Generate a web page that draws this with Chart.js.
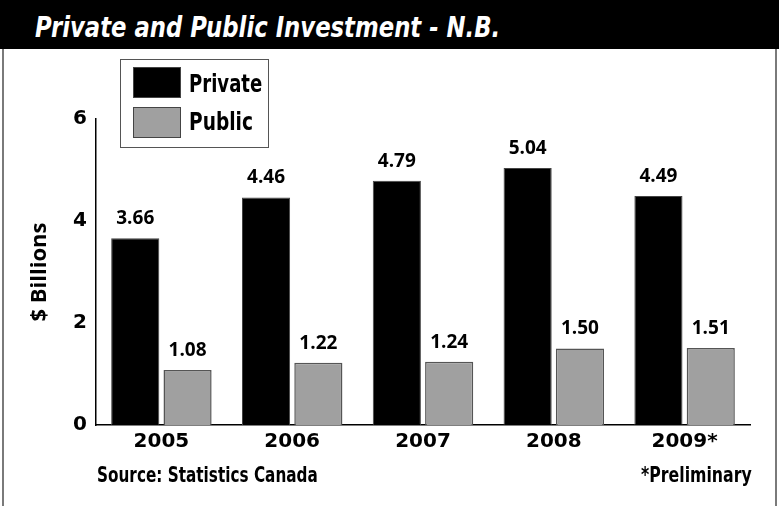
<!DOCTYPE html>
<html>
<head>
<meta charset="utf-8">
<script src="https://cdn.jsdelivr.net/npm/chart.js@4"></script>
<style>
  html, body { margin: 0; padding: 0; background: #fff; }
  #wrap { position: relative; width: 779px; height: 506px; overflow: hidden; background: #fff; }
  #chart { position: absolute; left: 0; top: 0; }
  .narrow { font-family: "DejaVu Sans", sans-serif; display: inline-block; transform-origin: 0 0; white-space: nowrap; }
  #titlebar { position: absolute; left: 0; top: 0; width: 779px; height: 49px; background: #000; }
  #title { position: absolute; left: 35px; top: 11px; color: #fff; font-size: 28px; font-weight: bold; font-style: italic; }
  #frameL { position: absolute; left: 2px; top: 49px; width: 2px; height: 457px; background: #7a7a7a; }
  #frameR { position: absolute; left: 775px; top: 49px; width: 2px; height: 457px; background: #7a7a7a; }
  #legend { position: absolute; left: 120px; top: 59px; width: 147px; height: 87px; border: 1px solid #555; }
  .sw { position: absolute; left: 12px; width: 48px; height: 31px; border: 1px solid #444; box-sizing: border-box; }
  .lt { position: absolute; left: 68px; font-size: 25px; font-weight: bold; color: #000; }
  .foot { position: absolute; top: 463px; font-size: 21px; font-weight: bold; color: #000; }
</style>
</head>
<body>
<div id="wrap">
  <canvas id="chart" width="779" height="506"></canvas>
  <div id="titlebar"><div id="title" class="narrow" data-w="465">Private and Public Investment - N.B.</div></div>
  <div id="frameL"></div>
  <div id="frameR"></div>
  <div id="legend">
    <div class="sw" style="top:7px;background:#000"></div>
    <div class="lt narrow" style="top:9px" data-w="73">Private</div>
    <div class="sw" style="top:47px;background:#a0a0a0"></div>
    <div class="lt narrow" style="top:47px" data-w="64">Public</div>
  </div>
  <div class="foot narrow" style="left:97px" data-w="221">Source: Statistics Canada</div>
  <div class="foot narrow" style="left:641px" data-w="111">*Preliminary</div>
</div>
<script>
// values
const years = ['2005', '2006', '2007', '2008', '2009*'];
const privateInv = [3.66, 4.46, 4.79, 5.04, 4.49];
const publicInv = [1.08, 1.22, 1.24, 1.50, 1.51];
const yTicks = [0, 2, 4, 6];

// the original uses a condensed face; squeeze the html text to the same widths
document.querySelectorAll('[data-w]').forEach(el => {
    const k = Number(el.dataset.w) / el.offsetWidth;
    el.style.transform = `scaleX(${k})`;
});

// value labels above each bar
const barLabels = {
    id: 'barLabels',
    afterDatasetsDraw(chart) {
        const ctx = chart.ctx;
        ctx.save();
        ctx.font = '700 19px "Open Sans", sans-serif';
        ctx.fillStyle = '#000';
        ctx.textAlign = 'center';
        ctx.textBaseline = 'bottom';
        chart.data.datasets.forEach((ds, i) => {
            chart.getDatasetMeta(i).data.forEach((bar, j) => {
                ctx.fillText(ds.data[j].toFixed(2), bar.x, bar.y - 10);
            });
        });
        ctx.restore();
    }
};

new Chart(document.getElementById('chart').getContext('2d'), {
    type: 'bar',
    data: {
        labels: years,
        datasets: [
            { label: 'Private', data: privateInv, backgroundColor: '#000', borderColor: '#444', borderWidth: 1 },
            { label: 'Public', data: publicInv, backgroundColor: '#a0a0a0', borderColor: '#555', borderWidth: 1.5 }
        ]
    },
    options: {
        responsive: false,
        animation: false,
        layout: { padding: { left: 10, right: 29, top: 119, bottom: 0 } },
        datasets: { bar: { categoryPercentage: 0.8, barPercentage: 0.92 } },
        plugins: { legend: { display: false }, tooltip: { enabled: false } },
        scales: {
            x: {
                grid: { display: false, drawTicks: false },
                border: { display: true, color: '#000', width: 1.5 },
                ticks: { color: '#000', padding: 5, font: { family: 'DejaVu Sans', weight: 'bold', size: 20 } },
                afterFit: s => { s.height = 81; }
            },
            y: {
                min: 0,
                max: 6,
                afterBuildTicks: s => { s.ticks = yTicks.map(v => ({ value: v })); },
                grid: { display: false, drawTicks: false },
                border: { display: true, color: '#000', width: 1.5 },
                ticks: { color: '#000', padding: 9, font: { family: 'DejaVu Sans', weight: 'bold', size: 20 } },
                title: {
                    display: true,
                    text: '$ Billions',
                    color: '#000',
                    padding: { top: 17, bottom: 0 },
                    font: { family: '"Open Sans", sans-serif', weight: 'bold', size: 22 }
                },
                afterFit: s => { s.width = 86; }
            }
        }
    },
    plugins: [barLabels]
});
</script>
</body>
</html>
